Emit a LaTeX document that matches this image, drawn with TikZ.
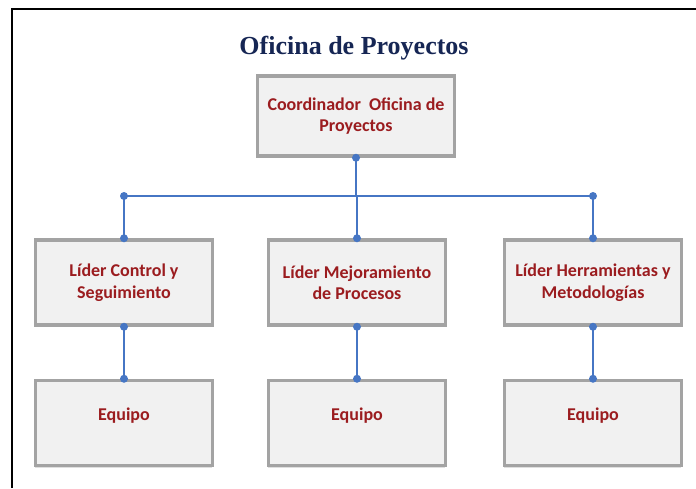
\documentclass[tikz,border=0pt]{standalone}
\usepackage{fontspec}
\setmainfont{Carlito}
\newfontfamily\titlefont{Liberation Serif}
\usetikzlibrary{shadows}

\definecolor{boxred}{RGB}{155,28,31}
\definecolor{boxgray}{RGB}{163,163,163}
\definecolor{boxfill}{RGB}{241,241,241}
\definecolor{linkblue}{RGB}{70,118,196}
\definecolor{titlenavy}{RGB}{22,38,84}

\tikzset{
    cargo/.style={draw=boxgray, line width=3.5pt, fill=boxfill,
        minimum width=177pt, minimum height=85pt, align=center,
        text=boxred, font=\fontsize{18}{21.5}\selectfont\bfseries,
        drop shadow={shadow xshift=-1pt, shadow yshift=-2pt, opacity=0.25}},
    equipo/.style={cargo, text height=10pt, text depth=16pt},
    link/.style={draw=linkblue, line width=1.5pt},
    punto/.style={fill=linkblue}
}

\begin{document}
\begin{tikzpicture}[x=1pt, y=-1pt]
        \useasboundingbox (0,0) rectangle (696,488);
        \draw[line width=1.8pt] (12,488) -- (12,9) -- (696,9);

        \node[font=\titlefont\fontsize{26}{30}\selectfont\bfseries, text=titlenavy]
         (titulo) at (354,48) {Oficina de Proyectos};

        \node[cargo, minimum width=197pt, minimum height=80pt] (coord) at (356,116)
         {Coordinador\ \ Oficina de\\Proyectos};

        \node[cargo] (lcs) at (124,282.5) {Líder Control y\\Seguimiento};
        \node[cargo] (lmp) at (357,282.5) {Líder Mejoramiento\\de Procesos};
        \node[cargo] (lhm) at (593,282.5) {Líder Herramientas y\\Metodologías};

        \node[equipo] (eq1) at (124,423) {Equipo};
        \node[equipo] (eq2) at (357,423) {Equipo};
        \node[equipo] (eq3) at (593,423) {Equipo};

        % barra de enlace
        \coordinate (busl) at (lcs.north |- 0,196);
        \coordinate (busc) at (coord.south |- 0,196);
        \coordinate (busr) at (lhm.north |- 0,196);

        \draw[link] (busl) -- (busr);
        \draw[link] (coord.south) -- (busc);
        \draw[link] (busl) -- (lcs.north);
        \draw[link] (busc -| lmp.north) -- (lmp.north);
        \draw[link] (busr) -- (lhm.north);

        \draw[link] (lcs.south) -- (eq1.north);
        \draw[link] (lmp.south) -- (eq2.north);
        \draw[link] (lhm.south) -- (eq3.north);

        % puntos
        \fill[punto] (coord.south) circle (4);
        \fill[punto] (busl) circle (4);
        \fill[punto] (busr) circle (4);
        \fill[punto] (lcs.north) circle (4);
        \fill[punto] (lmp.north) circle (4);
        \fill[punto] (lhm.north) circle (4);
        \fill[punto] (lcs.south) circle (4);
        \fill[punto] (lmp.south) circle (4);
        \fill[punto] (lhm.south) circle (4);
        \fill[punto] (eq1.north) circle (4);
        \fill[punto] (eq2.north) circle (4);
        \fill[punto] (eq3.north) circle (4);

    \end{tikzpicture}
\end{document}
